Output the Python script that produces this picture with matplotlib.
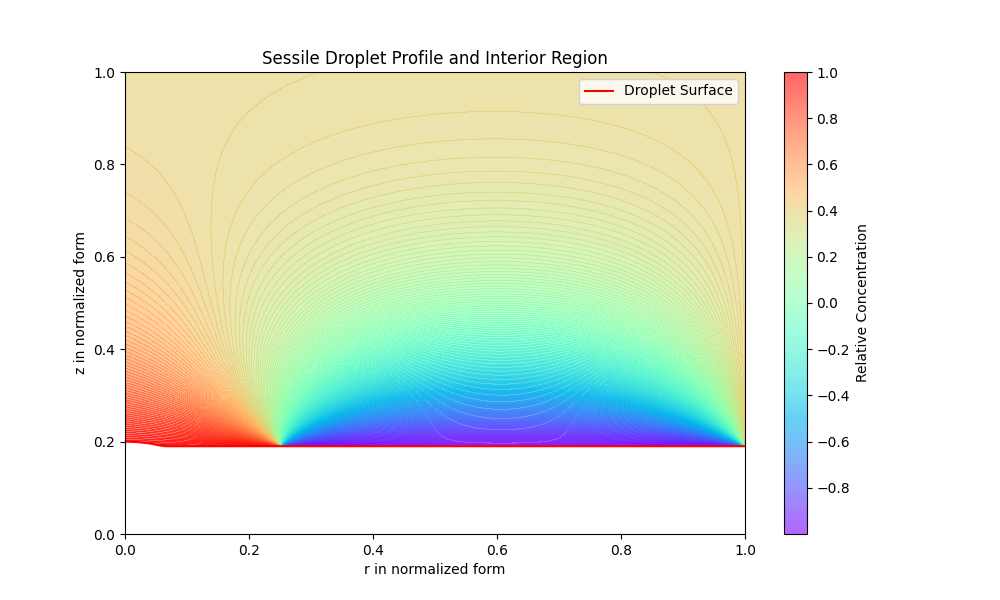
import numpy as np
import matplotlib
matplotlib.use('Agg')
import matplotlib.pyplot as plt

# droplet surface profile (r, z)
surface_r = [0.0, 0.02, 0.04, 0.055, 0.065, 0.3, 0.6, 1.0]
surface_z = [0.200, 0.199, 0.196, 0.192, 0.190, 0.190, 0.190, 0.190]

# value held on the surface: red patch for r < 0.25, depleted for 0.25 < r < 1
patch_edge = 0.25
wall_r = 1.0
patch_value = 1.0
ring_value = -1.0
ambient_value = 0.4        # initial value above, also held on the wall r = 1
diffusion_length = 0.205   # sqrt(D t) of the diffusion front

base = surface_z[-1]


def log_erfc_pos(a):
    # log(erfc(a)) for a >= 0 (Abramowitz & Stegun 7.1.26)
    t = 1.0 / (1.0 + 0.3275911 * a)
    poly = t * (0.254829592 + t * (-0.284496736 + t * (1.421413741
                + t * (-1.453152027 + t * 1.061405429))))
    return np.log(poly) - a * a


def erfc(a):
    val = np.exp(log_erfc_pos(np.abs(a)))
    return np.where(a >= 0, val, 2.0 - val)


# wall at r = 1 held at ambient -> mirror the surface values (odd image)
mirror = lambda v: 2 * ambient_value - v
edges_in = [patch_edge, wall_r, 2 * wall_r - patch_edge]
values_in = [patch_value, ring_value, mirror(ring_value), mirror(patch_value)]

# transient diffusion above the surface; cosine series on a wide strip
# in r, exact erfc solution of every mode in z
left, right = -3.0, 5.0
width = right - left
n_terms = 6000
k = np.arange(n_terms) * np.pi / width
edges = [left] + edges_in + [right]
coef = np.zeros(n_terms)
for lo, hi, val in zip(edges[:-1], edges[1:], values_in):
    w = val - ambient_value
    coef[0] += w * (hi - lo) / width
    coef[1:] += 2 * w * (np.sin(k[1:] * (hi - left)) - np.sin(k[1:] * (lo - left))) / (k[1:] * width)

r = np.linspace(0, 1, 500)
z = np.linspace(0, 1, 500)
y = np.clip(z - base, 0, None)
s = diffusion_length
X = y[None, :] / (2 * s)
ky = np.outer(k, y)
ks = (k * s)[:, None]
mode = 0.5 * (np.exp(-ky) * erfc(X - ks) + np.exp(ky + log_erfc_pos(X + ks)))
field = ambient_value + (np.cos(np.outer(r - left, k)) * coef) @ mode   # (r, z)
C = np.clip(field.T, -1.0, 1.0)

R, Z = np.meshgrid(r, z)
h = np.interp(R, surface_r, surface_z)
C[Z < h] = np.nan

fig, ax = plt.subplots(figsize=(10, 6))
levels = np.linspace(-1.0, 1.0, 200)
cf = ax.contourf(R, Z, C, levels=levels, cmap='rainbow', alpha=0.6)
ax.contour(R, Z, C, levels=levels, cmap='rainbow', linewidths=0.5, alpha=0.6)
ax.plot(surface_r, surface_z, color='red', label='Droplet Surface')

cbar = fig.colorbar(cf, ax=ax)
cbar.set_label('Relative Concentration')
cbar.set_ticks(np.round(np.arange(-0.8, 1.01, 0.2), 1))

ax.set_xlim(0, 1)
ax.set_ylim(0, 1)
ax.set_xlabel('r in normalized form')
ax.set_ylabel('z in normalized form')
ax.set_title('Sessile Droplet Profile and Interior Region')
ax.legend(loc='upper right')

fig.savefig('out.png', dpi=100)
